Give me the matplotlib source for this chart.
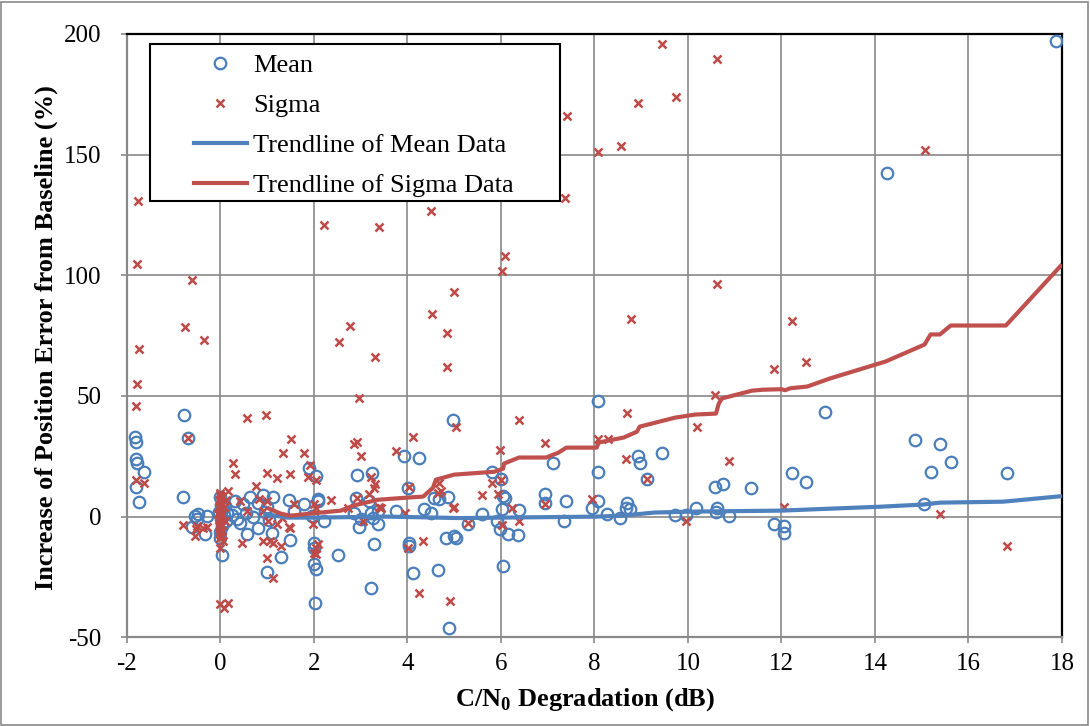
import matplotlib
matplotlib.use("Agg")
import matplotlib.pyplot as plt
from matplotlib.patches import Rectangle
from matplotlib.lines import Line2D

plt.rcParams['font.family'] = ['Liberation Serif', 'DejaVu Serif']
plt.rcParams['mathtext.fontset'] = 'custom'
plt.rcParams['mathtext.rm'] = 'Liberation Serif'
plt.rcParams['mathtext.bf'] = 'Liberation Serif:bold'
plt.rcParams['axes.unicode_minus'] = False

# === Data ===

mean_x = [-1.82, -1.80, -1.80, -1.78, -1.63, -1.80, -1.74,
          -0.77, -0.69, -0.79, -0.54, -0.47, -0.28, -0.60, -0.32, -0.50,
          0.00, 0.02, -0.02, 0.01, 0.03, -0.01, 0.00, 0.04, 0.05, 0.08, 0.12, 0.15, 0.10,
          0.32, 0.49, 0.43, 0.58, 0.80, 0.92, 1.12, 0.80, 0.64, 0.25, 0.35, 0.55, 0.70, 0.95, 1.05, 1.00,
          0.99, 1.10, 1.31, 1.48, 1.57, 1.80, 1.50, 1.89, 2.04, 2.10, 2.00, 2.00, 2.04, 2.02, 2.51,
          2.08, 1.97, 2.21, 2.00,
          2.92, 3.24, 2.90, 3.18, 3.37, 3.26, 2.96, 3.37, 3.28, 3.22, 3.76, 3.93, 4.25, 4.01, 4.36,
          4.51, 4.03, 4.03, 4.12, 4.66, 4.89, 4.57, 4.68, 4.87, 4.83, 5.00, 5.04, 4.98, 2.85, 3.00, 3.22,
          5.30, 5.60, 5.81, 6.01, 6.05, 6.09, 6.03, 5.92, 5.99, 6.16, 6.39, 6.37, 6.05, 6.95, 6.95,
          7.12, 7.40, 7.36, 8.07, 8.07, 7.96, 8.07, 8.28, 8.54, 8.69, 8.67, 8.76, 8.93, 8.97, 9.12,
          9.44, 9.72, 9.96, 10.17, 10.58, 10.75, 10.62, 10.60, 10.88, 11.35, 11.85, 12.06, 12.06,
          12.94, 12.23, 12.53, 14.85, 15.39, 15.62, 15.19, 15.04, 16.82, 17.88, 14.25]
mean_y = [32.8, 31.0, 24.0, 22.4, 18.6, 12.4, 6.2,
          42.0, 32.4, 8.3, 0.4, 1.2, 0.4, -4.1, -7.0, -1.0,
          8.0, 5.0, 2.0, -1.0, -4.0, -6.5, -8.7, -15.8, 3.5, 0.5, -2.0, 1.5, 4.5,
          6.6, 5.4, -2.5, -7.0, -4.6, 9.0, 8.3, 5.8, 8.3, 0.5, -1.0, 1.5, 0.0, 2.0, -1.5, 4.0,
          -22.8, -6.6, -16.6, 7.0, 2.5, 5.4, -9.5, 20.3, 17.0, 7.5, -10.8, -19.5, -21.6, -35.7, -15.8,
          6.6, 0.4, -1.7, -13.0,
          17.4, 18.2, 7.9, 6.6, 2.5, -0.4, -4.1, -2.9, -11.2, -29.4, 2.5, 25.3, 24.5, 12.0, 3.3,
          1.7, -10.8, -12.0, -23.2, -22.0, -46.0, 7.9, 7.5, 8.3, -8.7, -7.9, -8.7, 40.0, 1.7, -0.8, 1.7,
          -2.9, 1.2, 18.6, 15.8, 8.7, 7.9, 3.3, -1.7, -5.0, -7.0, 2.9, -7.5, -20.3, 9.5, 5.8,
          22.4, 6.6, -1.7, 18.6, 48.0, 3.7, 6.6, 1.2, -0.4, 5.8, 3.7, 3.3, 25.3, 22.4, 15.8,
          26.5, 0.8, 0.8, 3.7, 12.4, 13.7, 3.7, 2.0, 0.4, 12.0, -2.9, -3.7, -6.6,
          43.5, 18.2, 14.5, 31.9, 29.9, 22.8, 18.6, 5.4, 18.2, 197.0, 142.2]

sigma_x = [-1.76, -1.78, -1.74, -1.78, -1.80, -1.80, -1.63,
           -0.60, -0.75, -0.34, -0.69,
           0.58, 0.97, 2.77, 2.53, 3.30, 2.96, 5.00, 4.53, 4.85, 4.85,
           2.21, 3.39, 4.51, 9.44, 10.62, 9.74, 8.93, 7.42, 8.56, 8.07, 7.38, 6.09, 6.03, 10.62,
           8.78, 11.85, 10.58, 8.69, 6.39, 10.20, 5.04, 15.06, 12.23, 12.53, 12.06, 15.39, 16.82,
           5.99, 6.95, 8.07, 8.30, 8.67, 10.88, 9.12, 5.81, 6.01, 5.60, 5.94, 4.98, 4.72, 6.24,
           7.96, 6.95, 5.30, 6.03, 6.39, 9.96, 4.91,
           1.52, 1.35, 1.80, 0.28, 0.32, 1.01, 1.22, 1.50, 1.93, 1.87, 2.04, 2.85, 2.92, 3.00,
           3.76, 4.12, 0.77, 3.22, 3.30, 3.28, 3.18, 2.36, 2.92, 3.39, 4.03, 4.66, 5.00, 3.95,
           -0.79, -0.49, -0.54, -0.28, -0.52, 0.00, 0.47, 0.92, 1.12, 1.31, 1.48, 0.99, 1.12,
           1.99, 2.04, 2.04, 2.08, 2.00, 0.00, 0.07, 0.17, 4.25, 4.34, 4.01,
           0.17, 0.43, 0.82, 0.58, 0.92, 1.00, 1.03, 1.22, 1.33, 1.50, 1.57, 2.00, 2.04, -0.36,
           1.07, 2.73, 3.43, 3.05, 4.68,
           0.00, 0.00, 0.01, -0.01, 0.02, 0.00, -0.02, 0.01, 0.00, 0.03, -0.01, 0.02, 0.00,
           0.01, -0.02, 0.00, 0.03, 0.00, 0.01, -0.01, 0.05, 0.08, 0.10, 0.12, -0.05]
sigma_y = [131.0, 104.5, 69.5, 55.0, 46.0, 15.0, 14.0,
           98.0, 78.5, 73.0, 32.4,
           41.0, 42.0, 79.0, 72.5, 66.0, 49.0, 93.0, 84.0, 76.0, 62.0,
           121.0, 120.0, 126.5, 196.0, 189.5, 173.7, 171.6, 166.0, 153.4, 151.0, 132.0, 108.0, 101.6, 96.6,
           82.0, 61.0, 50.6, 43.0, 40.0, 37.0, 37.0, 152.0, 81.0, 64.0, 4.0, 1.2, -12.0,
           27.8, 30.7, 32.0, 32.0, 23.7, 23.0, 15.8, 14.0, 15.0, 9.0, 9.5, 3.7, 10.8, 3.7,
           7.5, 5.4, -2.5, -3.3, -1.7, -1.7, -35.0,
           32.3, 26.5, 26.5, 22.4, 17.8, 18.2, 16.2, 17.8, 21.6, 16.6, 15.3, 30.3, 31.0, 25.3,
           27.0, 32.8, 12.9, 16.6, 13.7, 12.0, 9.5, 7.0, 7.9, 4.1, 12.4, 10.0, 4.1, 1.7,
           -3.3, -3.7, -7.9, -4.1, -5.0, -12.8, -10.8, -10.0, -11.0, -12.0, -4.1, -17.0, -25.3,
           -2.9, -12.8, -15.3, -11.2, -15.0, -36.0, -37.7, -35.7, -31.5, -10.0, -12.8,
           10.8, 6.6, 7.5, 2.5, 2.5, 6.6, -1.7, -2.9, -0.4, -4.6, 5.4, 5.4, 3.7, -4.6,
           -10.0, 3.7, 3.7, -1.7, 14.0,
           10.0, 9.0, 8.0, 7.0, 6.0, 5.0, 4.0, 3.0, 2.0, 1.0, 0.0, -1.0, -2.0,
           -3.0, -4.0, -5.0, -6.0, -7.0, -8.0, -9.0, -10.0, 4.0, -2.0, 7.0, 1.0]

# moving-average trendlines
mean_trend_x = [0.92, 1.43, 2.00, 3.58, 5.15, 6.00, 8.05, 8.58, 9.29, 10.15, 12.02,
                12.51, 14.10, 15.02, 15.39, 16.74, 18.00]
mean_trend_y = [1.2, -0.4, -0.4, 0.0, -0.6, -0.4, 0.0, 0.4, 1.7, 2.1, 2.5,
                2.9, 4.1, 5.0, 5.8, 6.2, 8.5]

sigma_trend_x = [1.00, 1.30, 1.50, 2.15, 2.58, 2.85, 3.37, 4.01, 4.34, 4.55, 4.61, 5.00,
                 5.86, 6.05, 6.07, 6.39, 6.97, 7.23, 7.40, 8.05, 8.09, 8.63, 8.91, 8.97,
                 9.72, 10.15, 10.60, 10.66, 10.73, 11.37, 11.60, 12.00, 12.08, 12.19, 12.55,
                 13.03, 14.23, 15.06, 15.19, 15.39, 15.62, 16.80, 18.00]
sigma_trend_y = [3.7, 1.2, 0.4, 1.7, 2.5, 4.6, 7.0, 7.9, 8.3, 12.0, 15.3, 17.4,
                 18.6, 19.9, 22.0, 24.5, 24.5, 26.5, 28.6, 28.6, 30.7, 32.8, 35.2, 37.3,
                 41.0, 42.3, 42.7, 46.8, 49.0, 52.2, 52.6, 52.8, 52.4, 53.2, 53.9,
                 57.2, 64.3, 71.3, 75.5, 75.5, 79.2, 79.2, 104.5]

x_ticks = list(range(-2, 19, 2))
y_ticks = [-50, 0, 50, 100, 150, 200]

BLUE = '#4a7ebb'
RED = '#be4b48'
GRID = '#898989'

# === Figure ===

fig = plt.figure(figsize=(10.9, 7.26), dpi=100)
ax = fig.add_axes([126.7 / 1090, 1 - 637.3 / 726, (1062 - 126.7) / 1090, (637.3 - 34) / 726])

mean_style = dict(linestyle='none', marker='o', ms=8.3, mfc='none', mec=BLUE, mew=1.6)
sigma_style = dict(linestyle='none', marker='x', ms=5.8, mec=RED, mew=1.8)

ax.plot(mean_x, mean_y, zorder=3, **mean_style)
ax.plot(sigma_x, sigma_y, zorder=4, **sigma_style)
ax.plot(mean_trend_x, mean_trend_y, color='#4f81bd', lw=3.0, zorder=5, solid_capstyle='butt')
ax.plot(sigma_trend_x, sigma_trend_y, color='#c0504d', lw=3.0, zorder=5, solid_capstyle='butt')

ax.set_xlim(-2, 18)
ax.set_ylim(-50, 200)
ax.set_xticks(x_ticks)
ax.set_yticks(y_ticks)
ax.grid(True, color=GRID, lw=1.2)
ax.set_axisbelow(True)
ax.tick_params(axis='both', labelsize=18, color=GRID, width=1.2, length=4, direction='out')
ax.tick_params(axis='x', pad=7)
ax.tick_params(axis='y', pad=14)

for side in ['left', 'bottom']:
    ax.spines[side].set_color(GRID)
    ax.spines[side].set_linewidth(1.6)
for side in ['top', 'right']:
    ax.spines[side].set_color('black')
    ax.spines[side].set_linewidth(1.6)

fig.text(585 / 1090, 1 - 700 / 726, r'C/N$_\mathbf{0}$ Degradation (dB)', fontsize=19,
         fontweight='bold', ha='center', va='center')
fig.text(46 / 1090, 1 - 338 / 726, 'Increase of Position Error from Baseline (%)', fontsize=19,
         fontweight='bold', ha='center', va='center', rotation=90)

# === Legend ===

box = Rectangle((149.5 / 1090, 1 - 201 / 726), (560 - 149.5) / 1090, (201 - 44) / 726,
                transform=fig.transFigure, facecolor='white', edgecolor='black', lw=1.5, zorder=6)
fig.patches.append(box)

handles = [
    Line2D([], [], **mean_style),
    Line2D([], [], **sigma_style),
    Line2D([], [], color='#4f81bd', lw=3.0),
    Line2D([], [], color='#c0504d', lw=3.0),
]
labels = ['Mean', 'Sigma', 'Trendline of Mean Data', 'Trendline of Sigma Data']
leg = fig.legend(handles, labels, loc='upper left', bbox_to_anchor=(194 / 1090, 1 - 54 / 726),
                 frameon=False, fontsize=19, borderpad=0, borderaxespad=0, handlelength=2.0,
                 handletextpad=0.25, labelspacing=0.62)
leg.set_zorder(7)

# outer frame
fig.patches.append(Rectangle((0.001, 0.0015), 0.997, 0.996, transform=fig.transFigure,
                             fill=False, edgecolor=GRID, lw=1.2))

fig.savefig('out.png', dpi=100)
